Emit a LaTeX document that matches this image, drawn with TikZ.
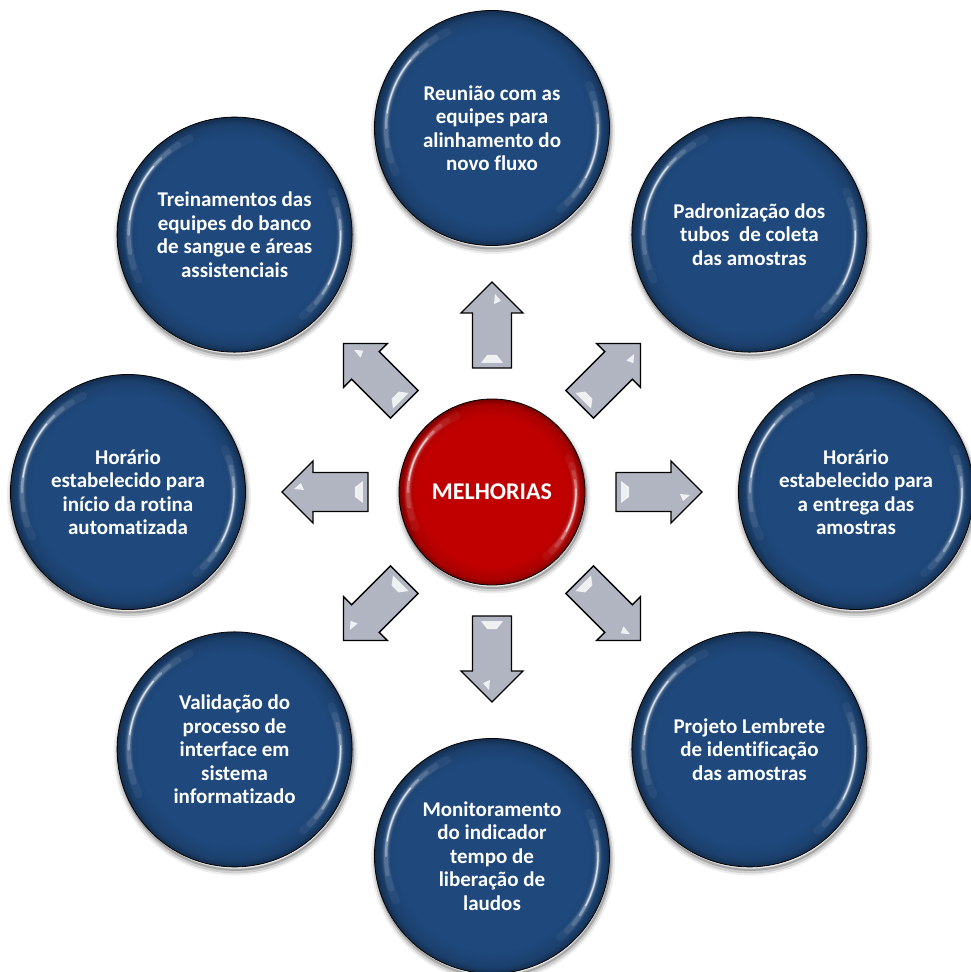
\documentclass[tikz,border=0pt]{standalone}
\usepackage{fontspec}
\setmainfont{Carlito}[Ligatures=NoCommon]

\definecolor{btnblue}{RGB}{31,73,125}
\definecolor{btnred}{RGB}{192,0,0}
\definecolor{arrowgray}{RGB}{177,181,194}
\colorlet{btnblueedge}{btnblue!62!black}
\colorlet{btnblueband}{btnblue!88!black}
\colorlet{btnrededge}{btnred!62!black}
\colorlet{btnredband}{btnred!88!black}

% flat button face with a darker rim
\pgfdeclareradialshading{bluebtn}{\pgfpoint{0bp}{0bp}}{color(0bp)=(btnblue); color(20bp)=(btnblue); color(23.5bp)=(btnblueband); color(25bp)=(btnblueedge); color(50bp)=(btnblueedge)}
\pgfdeclareradialshading{redbtn}{\pgfpoint{0bp}{0bp}}{color(0bp)=(btnred); color(20bp)=(btnred); color(23.5bp)=(btnredband); color(25bp)=(btnrededge); color(50bp)=(btnrededge)}

% white glossy streaks inside a button, #1 = radius of the streaks
\newcommand{\gloss}[1]{%
  \foreach \s/\e/\w/\o in {115/205/8/0.05, 122/198/6/0.08, 128/190/4/0.15, 134/180/2.5/0.3, 140/172/1.3/0.7,
                           -50/24/8/0.05, -45/19/6/0.08, -40/14/4/0.15, -34/8/2.5/0.3, -28/2/1.3/0.7}
    \draw[white, line width=\w pt, opacity=\o, line cap=round]
      ([shift={(\s:#1)}]path picture bounding box.center)
      arc[start angle=\s, end angle=\e, radius=#1];
}

\tikzset{
  shadowed/.style={
    preaction={draw=black, draw opacity=0.07, line width=9pt, transform canvas={shift={(1pt,-4pt)}}},
    preaction={draw=black, draw opacity=0.12, line width=5pt, transform canvas={shift={(1pt,-4pt)}}},
    preaction={draw=black, draw opacity=0.2, line width=2pt, transform canvas={shift={(1pt,-3pt)}}}},
  goal/.style={circle, shadowed, minimum size=235pt, inner sep=0pt, draw=black, line width=0.8pt,
    shading=bluebtn, text=white, align=center, path picture={\gloss{106}},
    font=\bfseries\fontsize{21pt}{23.5pt}\selectfont},
  core/.style={goal, minimum size=186pt, shading=redbtn, path picture={\gloss{84}},
    font=\bfseries\fontsize{24pt}{26pt}\selectfont},
  blockarrow/.style={fill=arrowgray, draw=black, line width=1.4pt, line join=miter},
  glint/.style={fill=white, fill opacity=0.8},
}

\begin{document}
\begin{tikzpicture}[x=1pt, y=1pt]
\useasboundingbox (-492,-480) rectangle (479,492);

% CENTER
\node[core] (melhorias) at (0,0) {MELHORIAS};

% OUTER RING
\node[goal] (reuniao) at (90:364) {Reunião com as\\equipes para\\alinhamento do\\novo fluxo};
\node[goal] (padronizacao) at (45:364) {Padronização dos\\tubos \ de coleta\\das amostras};
\node[goal] (entrega) at (0:364) {Horário\\estabelecido para\\a entrega das\\amostras};
\node[goal] (lembrete) at (-45:364) {Projeto Lembrete\\de identificação\\das amostras};
\node[goal] (monitoramento) at (-90:364) {Monitoramento\\do indicador\\tempo de\\liberação de\\laudos};
\node[goal] (validacao) at (-135:364) {Validação do\\processo de\\interface em\\sistema\\informatizado};
\node[goal] (inicio) at (180:364) {Horário\\estabelecido para\\início da rotina\\automatizada};
\node[goal] (treinamento) at (135:364) {Treinamentos das\\equipes do banco\\de sangue e áreas\\assistenciais};

% BLOCK ARROWS
\foreach \a in {0,45,...,315}{
  \begin{scope}[shift={(melhorias.center)}, rotate=\a]
    \draw[blockarrow] (124,-19.5) -- (179,-19.5) -- (179,-31) -- (210,0)
      -- (179,31) -- (179,19.5) -- (124,19.5) -- cycle;
    \fill[glint] (129,-11) -- (129,11) -- (137,5) -- (137,-5) -- cycle;
    \fill[glint] (188,-2) -- (198,-3) -- (191,-9) -- cycle;
  \end{scope}
}

\end{tikzpicture}
\end{document}
